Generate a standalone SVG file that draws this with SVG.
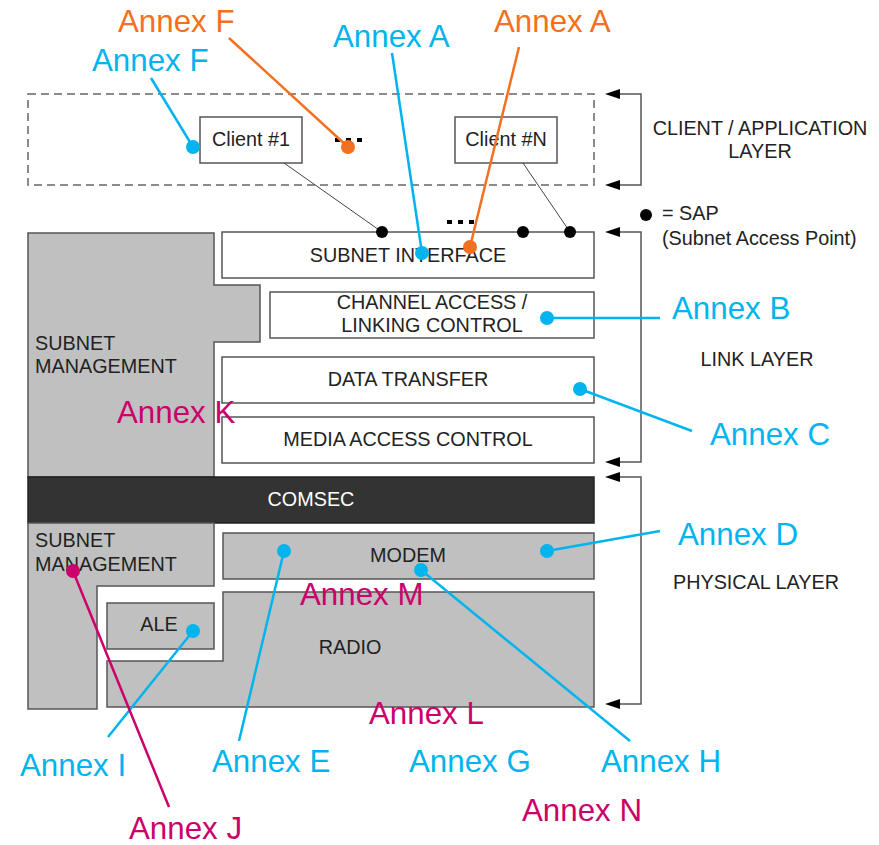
<svg xmlns="http://www.w3.org/2000/svg" width="879" height="845" viewBox="0 0 879 845">
<defs>
<style>
.box{fill:#fff;stroke:#555;stroke-width:1.5}
.gray{fill:#c0c0c0;stroke:#555;stroke-width:1.5}
.lbl{font-family:"Liberation Sans",Arial,sans-serif;font-size:19.8px;fill:#222}
.mid{text-anchor:middle}
.ann{font-family:"Liberation Sans",Arial,sans-serif;font-size:31.3px}
.blue{fill:#00b4ee}
.orange{fill:#f37020}
.mag{fill:#cc006a}
.lb{stroke:#00b4ee;stroke-width:2.5;fill:none}
.lo{stroke:#f37020;stroke-width:2.5;fill:none}
.lm{stroke:#cc006a;stroke-width:2.5;fill:none}
.br{stroke:#555;stroke-width:1.5;fill:none}
.thin{stroke:#444;stroke-width:1;fill:none}
</style>
</defs>
<rect width="879" height="845" fill="#fff"/>

<g id="client-layer">
<rect x="28" y="94" width="566" height="91" fill="none" stroke="#666" stroke-width="1.5" stroke-dasharray="8,5"/>
</g>
<g id="client1"><rect class="box" x="200" y="117" width="102" height="46"/><text class="lbl mid" x="251" y="146">Client #1</text></g>
<g id="clientN"><rect class="box" x="455" y="117" width="102" height="46"/><text class="lbl mid" x="506" y="146">Client #N</text></g>
<g id="dots1" fill="#000"><rect x="335" y="138" width="5" height="4"/><rect x="346" y="138" width="5" height="4"/><rect x="357" y="138" width="5" height="4"/></g>
<g id="dots2" fill="#000"><rect x="447" y="220" width="5" height="4"/><rect x="458" y="220" width="5" height="4"/><rect x="469" y="220" width="5" height="4"/></g>

<g id="subnet-mgmt-top"><polygon class="gray" points="28,233 214,233 214,285 260,285 260,342 214,342 214,477 28,477"/>
<text class="lbl" x="35" y="350">SUBNET</text><text class="lbl" x="35" y="373">MANAGEMENT</text></g>
<g id="subnet-interface"><rect class="box" x="222" y="232" width="372" height="46"/><text class="lbl mid" x="408" y="262">SUBNET INTERFACE</text></g>
<g id="channel-access"><rect class="box" x="270" y="292" width="324" height="46"/><text class="lbl mid" x="432" y="309">CHANNEL ACCESS /</text><text class="lbl mid" x="432" y="332">LINKING CONTROL</text></g>
<g id="data-transfer"><rect class="box" x="222" y="357" width="372" height="46"/><text class="lbl mid" x="408" y="386">DATA TRANSFER</text></g>
<g id="mac"><rect class="box" x="222" y="417" width="372" height="46"/><text class="lbl mid" x="408" y="446">MEDIA ACCESS CONTROL</text></g>
<g id="comsec"><rect x="28" y="477" width="566" height="46" fill="#333" stroke="#222" stroke-width="1.5"/><text class="lbl mid" x="311" y="506" style="fill:#fff">COMSEC</text></g>
<g id="subnet-mgmt-bottom"><polygon class="gray" points="28,523 214,523 214,586 97,586 97,709 28,709"/>
<text class="lbl" x="35" y="547">SUBNET</text><text class="lbl" x="35" y="571">MANAGEMENT</text></g>
<g id="modem"><rect class="gray" x="223" y="533" width="371" height="46"/><text class="lbl mid" x="408" y="562">MODEM</text></g>
<g id="ale"><rect class="gray" x="107" y="603" width="107" height="46"/><text class="lbl mid" x="159" y="631">ALE</text></g>
<g id="radio"><polygon class="gray" points="223,592 594,592 594,707 107,707 107,661 223,661"/><text class="lbl mid" x="350" y="654">RADIO</text></g>

<g id="connectors">
<line class="thin" x1="284" y1="163" x2="382" y2="232"/>
<line class="thin" x1="523" y1="163" x2="570" y2="232"/>
<circle cx="382" cy="232" r="6" fill="#000"/>
<circle cx="523" cy="232" r="6" fill="#000"/>
<circle cx="570" cy="232" r="6" fill="#000"/>
<polyline class="br" points="618,94 641,94 641,185 618,185"/>
<polyline class="br" points="618,232 641,232 641,462 618,462"/>
<polyline class="br" points="618,477 641,477 641,704 618,704"/>
<g fill="#000">
<polygon points="605,94 620,89 620,99"/>
<polygon points="605,185 620,180 620,190"/>
<polygon points="605,232 620,227 620,237"/>
<polygon points="605,462 620,457 620,467"/>
<polygon points="605,477 620,472 620,482"/>
<polygon points="605,704 620,699 620,709"/>
</g>
<line class="lb" x1="151" y1="78" x2="193" y2="147"/>
<line class="lo" x1="229" y1="38" x2="348" y2="147"/>
<line class="lb" x1="392" y1="53" x2="422" y2="253"/>
<line class="lo" x1="519" y1="47" x2="470" y2="247"/>
<line class="lb" x1="547" y1="318" x2="660" y2="318"/>
<line class="lb" x1="580" y1="389" x2="692" y2="431"/>
<line class="lb" x1="547" y1="551" x2="660" y2="531"/>
<line class="lb" x1="284" y1="551" x2="239" y2="741"/>
<line class="lb" x1="421" y1="570" x2="630" y2="741"/>
<line class="lb" x1="193" y1="631" x2="108" y2="737"/>
<line class="lm" x1="73" y1="571" x2="169" y2="807"/>
<g class="blue">
<circle cx="193" cy="147" r="7"/><circle cx="422" cy="253" r="7"/><circle cx="547" cy="318" r="7"/><circle cx="580" cy="389" r="7"/><circle cx="547" cy="551" r="7"/><circle cx="284" cy="551" r="7"/><circle cx="421" cy="570" r="7"/><circle cx="193" cy="631" r="7"/>
</g>
<g class="orange"><circle cx="348" cy="147" r="7"/><circle cx="470" cy="247" r="7"/></g>
<circle class="mag" cx="73" cy="571" r="7"/>
</g>

<g id="legend">
<circle cx="646" cy="215" r="6" fill="#000"/>
<text class="lbl" x="662" y="220">= SAP</text>
<text class="lbl" x="662" y="245">(Subnet Access Point)</text>
<text class="lbl mid" x="760" y="135">CLIENT / APPLICATION</text>
<text class="lbl mid" x="760" y="158">LAYER</text>
<text class="lbl mid" x="757" y="366">LINK LAYER</text>
<text class="lbl mid" x="756" y="589">PHYSICAL LAYER</text>
</g>

<g id="annex-labels">
<text class="ann orange" x="118" y="32">Annex F</text>
<text class="ann blue" x="92" y="71">Annex F</text>
<text class="ann blue" x="333" y="47">Annex A</text>
<text class="ann orange" x="494" y="32">Annex A</text>
<text class="ann blue" x="672" y="319">Annex B</text>
<text class="ann blue" x="710" y="445">Annex C</text>
<text class="ann mag" x="117" y="423">Annex K</text>
<text class="ann blue" x="678" y="545">Annex D</text>
<text class="ann mag" x="300" y="605">Annex M</text>
<text class="ann mag" x="369" y="724">Annex L</text>
<text class="ann blue" x="20" y="776">Annex I</text>
<text class="ann blue" x="212" y="772">Annex E</text>
<text class="ann blue" x="409" y="772">Annex G</text>
<text class="ann blue" x="601" y="772">Annex H</text>
<text class="ann mag" x="129" y="839">Annex J</text>
<text class="ann mag" x="522" y="821">Annex N</text>
</g>
</svg>
